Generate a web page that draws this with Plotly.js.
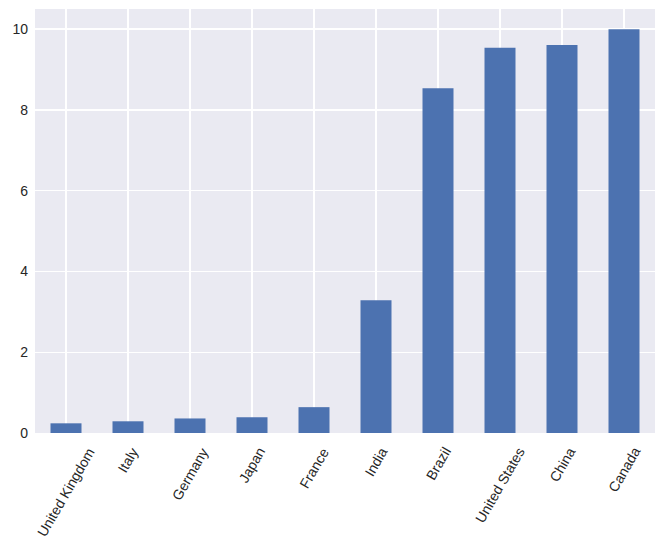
<!DOCTYPE html>
<html>
<head>
<meta charset="utf-8">
<script src="https://cdn.plot.ly/plotly-3.0.1.min.js"></script>
<style>
  html, body { margin: 0; padding: 0; background: #fff; }
  #chart { width: 665px; height: 545px; }
</style>
</head>
<body>
<div id="chart"></div>
<script>
// countries, sorted by value
const countries = ['United Kingdom', 'Italy', 'Germany', 'Japan', 'France',
  'India', 'Brazil', 'United States', 'China', 'Canada'];
const values = [0.24, 0.29, 0.36, 0.39, 0.64, 3.29, 8.54, 9.54, 9.61, 10.0];
const yTicks = [0, 2, 4, 6, 8, 10];

const trace = {
  x: countries,
  y: values,
  type: 'bar',
  width: 0.5,
  marker: { color: '#4C72B0' },
  hoverinfo: 'x+y'
};

// matplotlib centres the rotated label box on the tick, so use annotations
const xLabels = countries.map(c => ({
  x: c,
  xref: 'x',
  y: 0,
  yref: 'paper',
  yshift: -9,
  text: c,
  textangle: -60,
  showarrow: false,
  xanchor: 'center',
  yanchor: 'top',
  font: { size: 14, color: '#262626' }
}));

const layout = {
  width: 665,
  height: 545,
  margin: { l: 35, r: 10, t: 9, b: 112 },
  paper_bgcolor: '#ffffff',
  plot_bgcolor: '#EAEAF2',
  font: { family: 'Liberation Sans, Arial, sans-serif', size: 14, color: '#262626' },
  showlegend: false,
  annotations: xLabels,
  xaxis: {
    type: 'category',
    range: [-0.5, 9.5],
    showticklabels: false,
    showgrid: true,
    gridcolor: '#ffffff',
    gridwidth: 1.4,
    zeroline: false,
    showline: false,
    ticks: ''
  },
  yaxis: {
    range: [0, 10.5],
    tickvals: yTicks,
    ticktext: yTicks.map(String),
    showgrid: true,
    gridcolor: '#ffffff',
    gridwidth: 1.4,
    zeroline: false,
    showline: false,
    ticks: '',
    ticklabelstandoff: 6,
    tickfont: { size: 14 }
  }
};

Plotly.newPlot('chart', [trace], layout, { displayModeBar: false, staticPlot: true });
</script>
</body>
</html>
